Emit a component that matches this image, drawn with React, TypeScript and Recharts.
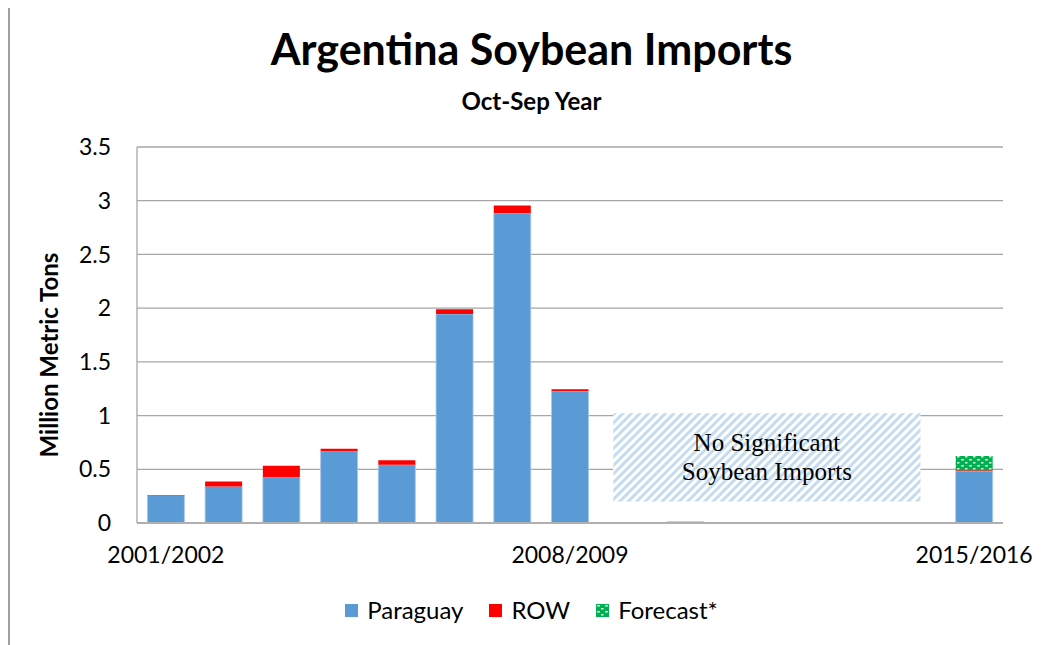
import React from "react";
import { BarChart, Bar, XAxis, YAxis, CartesianGrid, ReferenceArea } from "recharts";

const seasons = [
  "2001/2002", "2002/2003", "2003/2004", "2004/2005", "2005/2006",
  "2006/2007", "2007/2008", "2008/2009", "2009/2010", "2010/2011",
  "2011/2012", "2012/2013", "2013/2014", "2014/2015", "2015/2016",
];
const paraguay = [0.256, 0.34, 0.426, 0.667, 0.543, 1.946, 2.885, 1.228, 0, 0.012, 0, 0, 0, 0, 0.484];
const row = [0.004, 0.046, 0.108, 0.023, 0.04, 0.044, 0.071, 0.018, 0.004, 0, 0, 0.003, 0.003, 0.003, 0.006];
const forecast = [0, 0, 0, 0, 0, 0, 0, 0, 0, 0, 0, 0, 0, 0, 0.134];
const yTicks = [0, 0.5, 1, 1.5, 2, 2.5, 3, 3.5];

const data = seasons.map((season, i) => ({
  season,
  paraguay: paraguay[i],
  row: row[i],
  forecast: forecast[i],
}));

const FONT = "Lato, 'Open Sans', sans-serif";
const BLUE = "#5B9BD5";
const RED = "#FF0000";
const GREEN = "#00B050";

// hatched "no significant imports" box; area spans 2009/10..2014/15 (6 bands), trimmed to the original box
const NoteBox = (props: any) => {
  const band = props.width / 6;
  const x = props.x + band * 0.25;
  const width = props.width - band * 0.68;
  const { y, height } = props;
  const cx = x + width / 2;
  const cy = y + height / 2;
  return (
    <g>
      <rect x={x} y={y} width={width} height={height} fill="#fff" />
      <rect x={x} y={y} width={width} height={height} fill="url(#hatch)" />
      <text x={cx} y={cy - 6} textAnchor="middle" fontFamily="'Liberation Serif', 'Times New Roman', serif" fontSize={25} fill="#000">
        No Significant
      </text>
      <text x={cx} y={cy + 23} textAnchor="middle" fontFamily="'Liberation Serif', 'Times New Roman', serif" fontSize={25} fill="#000">
        Soybean Imports
      </text>
    </g>
  );
};

const legendItems = [
  { label: "Paraguay", fill: BLUE },
  { label: "ROW", fill: RED },
  { label: "Forecast*", fill: "url(#dots)" },
];

export default function App() {
  return (
    <div style={{ position: "relative", width: 1037, height: 637, fontFamily: FONT, background: "#fff" }}>
      <div style={{ position: "absolute", left: 0, top: -2, right: 0, bottom: 0, borderTop: "2px solid #a0a0a0", borderLeft: "2px solid #a0a0a0" }} />
      <div style={{ position: "absolute", left: 0, width: 1047, top: 15, textAlign: "center", fontSize: 43, fontWeight: 700, color: "#000", lineHeight: "52px" }}>
        Argentina Soybean Imports
      </div>
      <div style={{ position: "absolute", left: 0, width: 1047, top: 78, textAlign: "center", fontSize: 24, fontWeight: 700, color: "#000", lineHeight: "30px" }}>
        Oct-Sep Year
      </div>
      <div
        style={{
          position: "absolute", left: 40, top: 347, transform: "translate(-50%, -50%) rotate(-90deg)",
          whiteSpace: "nowrap", fontSize: 24, fontWeight: 700, color: "#000",
        }}
      >
        Million Metric Tons
      </div>
      <svg width={0} height={0} style={{ position: "absolute" }}>
        <defs>
          <pattern id="hatch" width={6} height={6} patternUnits="userSpaceOnUse" patternTransform="rotate(45)">
            <rect width={3} height={6} fill="#C5DCF0" />
          </pattern>
          <pattern id="dots" width={8} height={6} patternUnits="userSpaceOnUse">
            <rect width={8} height={6} fill={GREEN} />
            <rect x={1} y={1} width={3} height={1.5} fill="#d8f0e0" />
            <rect x={5} y={4} width={2.5} height={1.5} fill="#d8f0e0" />
          </pattern>
        </defs>
      </svg>
      <div style={{ position: "absolute", left: 0, top: 0 }}>
        <BarChart
          width={1037}
          height={637}
          data={data}
          margin={{ top: 139, right: 42, bottom: 92, left: 69 }}
          barCategoryGap="18%"
        >
          <CartesianGrid vertical={false} stroke="#a6a6a6" strokeWidth={1.3} />
          <XAxis
            dataKey="season"
            interval={6}
            tickLine={false}
            tickSize={0}
            tickMargin={24}
            axisLine={{ stroke: "#b0b0b0", strokeWidth: 2 }}
            tick={{ fontSize: 23, fill: "#000", fontFamily: FONT }}
            height={30}
          />
          <YAxis
            domain={[0, 3.5]}
            ticks={yTicks}
            tickLine={false}
            tickSize={0}
            tickMargin={26}
            axisLine={{ stroke: "#a6a6a6", strokeWidth: 1.3 }}
            tick={{ fontSize: 23, fill: "#000", fontFamily: FONT }}
            width={60}
          />
          <Bar dataKey="paraguay" stackId="a" fill={BLUE} stroke="#a9c8ea" strokeWidth={0.8} isAnimationActive={false} />
          <Bar dataKey="row" stackId="a" fill={RED} isAnimationActive={false} />
          <Bar dataKey="forecast" stackId="a" fill="url(#dots)" isAnimationActive={false} />
          <ReferenceArea x1="2009/2010" x2="2014/2015" y1={0.2} y2={1.022} shape={NoteBox} ifOverflow="visible" />
        </BarChart>
      </div>
      <div style={{ position: "absolute", left: 0, width: 1047, top: 587, display: "flex", justifyContent: "center", gap: 26, fontSize: 24, color: "#000", lineHeight: "30px" }}>
        {legendItems.map((it) => (
          <div key={it.label} style={{ display: "flex", alignItems: "center", gap: 9 }}>
            <svg width={13} height={13}>
              <rect width={13} height={13} fill={it.fill} />
            </svg>
            <span>{it.label}</span>
          </div>
        ))}
      </div>
    </div>
  );
}
